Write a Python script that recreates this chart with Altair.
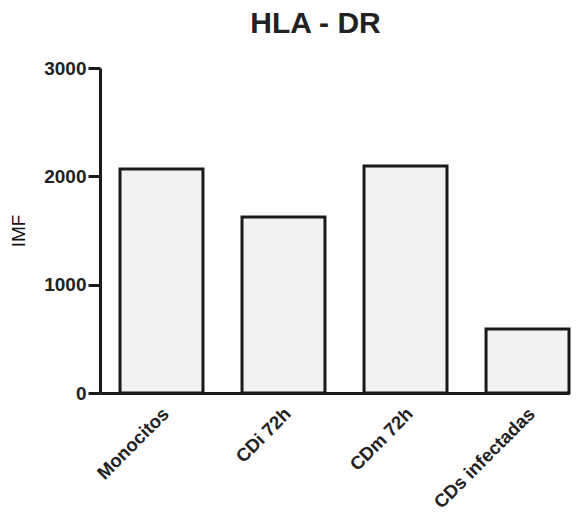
import altair as alt
import pandas as pd

categories = ["Monocitos", "CDi 72h", "CDm 72h", "CDs infectadas"]
values = [2068, 1625, 2095, 591]
y_ticks = [0, 1000, 2000, 3000]

df = pd.DataFrame({"cat": categories, "val": values})

FONT = "Liberation Sans"

bars = alt.Chart(df).mark_bar(
    fill="#f2f2f2", stroke="#1a1a1a", strokeWidth=3
).encode(
    x=alt.X("cat:N", sort=categories, title=None,
            scale=alt.Scale(paddingInner=0.32, paddingOuter=0.082, align=1),
            axis=alt.Axis(labelAngle=-45, labelFont=FONT, labelFontSize=18.5,
                          labelFontWeight="bold", labelColor="#222",
                          ticks=False, labelPadding=11, labelOffset=-2,
                          domainColor="#1a1a1a", domainWidth=3,
                          labelAlign="right", labelBaseline="top")),
    y=alt.Y("val:Q", title="IMF",
            scale=alt.Scale(domain=[0, 3000], nice=False),
            axis=alt.Axis(values=y_ticks, format="d", grid=False,
                          labelFont=FONT, labelFontSize=19, labelFontWeight="bold",
                          labelColor="#222", tickColor="#1a1a1a", tickWidth=3,
                          tickSize=12, labelPadding=2, domainColor="#1a1a1a",
                          domainWidth=3, titleFont=FONT, titleFontSize=19,
                          titleFontWeight="normal", titleColor="#111",
                          titlePadding=15)),
)

chart = bars.properties(
    width=469, height=325,
    title=alt.TitleParams("HLA - DR", font=FONT, fontSize=30, fontWeight="bold",
                          color="#222", anchor="middle", offset=20, dx=-19),
    autosize=alt.AutoSizeParams(type="none"),
    padding={"left": 92, "top": 60, "right": 11, "bottom": 117},
).configure_view(stroke=None)

chart.save("out.html", embed_options={"renderer": "svg", "actions": False})
